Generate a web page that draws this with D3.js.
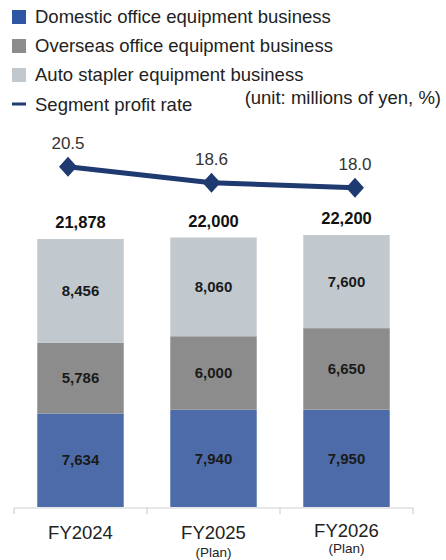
<!DOCTYPE html>
<html>
<head>
<meta charset="utf-8">
<script src="https://cdn.jsdelivr.net/npm/d3@7"></script>
<style>
  html, body { margin: 0; padding: 0; background: #fff; }
  svg { display: block; font-family: "Liberation Sans", Arial, sans-serif; }
</style>
</head>
<body>
<svg id="chart" width="446" height="560"></svg>
<script>
// Fiscal years and sub-labels
const years = ["FY2024", "FY2025", "FY2026"];
const yearNotes = ["", "(Plan)", "(Plan)"];

// Segment sales (millions of yen)
const domestic = [7634, 7940, 7950];
const overseas = [5786, 6000, 6650];
const autoStapler = [8456, 8060, 7600];
const totals = [21878, 22000, 22200];

// Segment profit rate (%)
const profitRate = [20.5, 18.6, 18.0];

const seriesNames = [
  "Domestic office equipment business",
  "Overseas office equipment business",
  "Auto stapler equipment business"
];
const seriesColors = ["#4d6ba8", "#8c8c8c", "#c1c9cf"];
const legendColors = ["#2f56a3", "#8c8c8c", "#c1c9cf"];
const lineColor = "#1e3a70";

const svg = d3.select("#chart");

const x = d3.scaleBand().domain(years).range([14, 413]).paddingInner(0.35).paddingOuter(0.175);
const xRate = d3.scalePoint().domain(years).range([68, 355]);
const y = d3.scaleLinear().domain([0, 25000]).range([507, 200.75]);
const yRate = d3.scaleLinear().domain([0, 25]).range([339, 129]);
const fmt = d3.format(",");

// Stack the three segments
const rows = years.map((yr, i) => ({ year: yr, d: domestic[i], o: overseas[i], a: autoStapler[i] }));
const layers = d3.stack().keys(["d", "o", "a"])(rows);

const g = svg.append("g");
layers.forEach((layer, li) => {
  g.selectAll(null).data(layer).enter().append("rect")
    .attr("x", d => x(d.data.year))
    .attr("width", x.bandwidth())
    .attr("y", d => y(d[1]))
    .attr("height", d => y(d[0]) - y(d[1]))
    .attr("fill", seriesColors[li]);
  g.selectAll(null).data(layer).enter().append("text")
    .attr("x", d => x(d.data.year) + x.bandwidth() / 2)
    .attr("y", d => (y(d[0]) + y(d[1])) / 2)
    .attr("dy", "0.35em")
    .attr("text-anchor", "middle")
    .attr("font-size", 15)
    .attr("font-weight", "bold")
    .attr("fill", "#1a1a1a")
    .text(d => fmt(d[1] - d[0]));
});

// Totals above bars
g.selectAll(null).data(totals).enter().append("text")
  .attr("x", (d, i) => x(years[i]) + x.bandwidth() / 2)
  .attr("y", d => y(d) - 11)
  .attr("text-anchor", "middle")
  .attr("font-size", 16.5)
  .attr("font-weight", "bold")
  .attr("fill", "#111")
  .text(d => fmt(d));

// Category axis
const axis = svg.append("g").attr("transform", "translate(0,508)");
axis.append("line").attr("x1", 14).attr("x2", 413).attr("y1", 0).attr("y2", 0)
  .attr("stroke", "#d0d0d0").attr("stroke-width", 1.2);
const tickXs = [14].concat(years.map(yr => x(yr) + x.bandwidth() + x.step() * x.paddingInner() / 2));
tickXs[3] = 413;
axis.selectAll(null).data(tickXs).enter().append("line")
  .attr("x1", d => d).attr("x2", d => d).attr("y1", 0).attr("y2", 6)
  .attr("stroke", "#d0d0d0").attr("stroke-width", 1.2);
axis.selectAll(null).data(years).enter().append("text")
  .attr("x", d => x(d) + x.bandwidth() / 2)
  .attr("y", (d, i) => i === 2 ? 29 : 31)
  .attr("text-anchor", "middle")
  .attr("font-size", 18.5)
  .attr("fill", "#222")
  .text(d => d);
axis.selectAll(null).data(yearNotes).enter().append("text")
  .attr("x", (d, i) => x(years[i]) + x.bandwidth() / 2)
  .attr("y", (d, i) => i === 2 ? 45 : 49)
  .attr("text-anchor", "middle")
  .attr("font-size", 13.5)
  .attr("fill", "#222")
  .text(d => d);

// Profit rate line
svg.append("path")
  .datum(profitRate)
  .attr("d", d3.line().x((d, i) => xRate(years[i])).y(d => yRate(d)))
  .attr("fill", "none")
  .attr("stroke", lineColor)
  .attr("stroke-width", 5);
const diamond = "M0,-10L9,0L0,10L-9,0Z";
svg.selectAll(null).data(profitRate).enter().append("path")
  .attr("d", diamond)
  .attr("transform", (d, i) => `translate(${xRate(years[i])},${yRate(d)})`)
  .attr("fill", lineColor);
svg.selectAll(null).data(profitRate).enter().append("text")
  .attr("x", (d, i) => xRate(years[i]))
  .attr("y", d => yRate(d) - 18)
  .attr("text-anchor", "middle")
  .attr("font-size", 17)
  .attr("fill", "#333")
  .text(d => d.toFixed(1));

// Legend
const legend = svg.append("g");
seriesNames.forEach((name, i) => {
  const ly = 17 + i * 29;
  legend.append("rect").attr("x", 12).attr("y", ly - 7).attr("width", 14).attr("height", 14)
    .attr("fill", legendColors[i]);
  legend.append("text").attr("x", 35).attr("y", ly).attr("dy", "0.35em")
    .attr("font-size", 18.5).attr("fill", "#222").text(name);
});
legend.append("line").attr("x1", 12).attr("x2", 26).attr("y1", 104).attr("y2", 104)
  .attr("stroke", lineColor).attr("stroke-width", 3);
legend.append("text").attr("x", 35).attr("y", 105).attr("dy", "0.35em")
  .attr("font-size", 18.5).attr("fill", "#222").text("Segment profit rate");
legend.append("text").attr("x", 441).attr("y", 98).attr("dy", "0.35em")
  .attr("text-anchor", "end")
  .attr("font-size", 18.5).attr("fill", "#222").text("(unit: millions of yen, %)");
</script>
</body>
</html>
